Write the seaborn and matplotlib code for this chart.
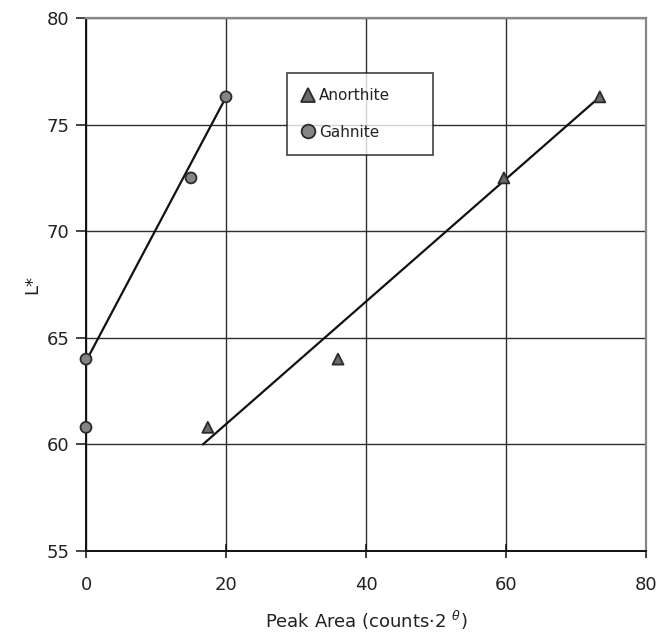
import pandas as pd
import numpy as np
import matplotlib
matplotlib.use("Agg")
import matplotlib.pyplot as plt
import seaborn as sns

# measured points
anorthite_x = [17.4, 36.0, 59.7, 73.4]
anorthite_y = [60.8, 64.0, 72.5, 76.3]
gahnite_x = [0.0, 0.0, 15.0, 20.0]
gahnite_y = [64.0, 60.8, 72.5, 76.3]

# trendline end points as drawn in the picture
anorthite_fit_x = [16.7, 72.7]
anorthite_fit_y = [60.0, 76.1]
gahnite_fit_x = [0.0, 19.7]
gahnite_fit_y = [63.9, 76.1]

x_ticks = [0, 20, 40, 60, 80]
y_ticks = [55, 60, 65, 70, 75, 80]

pts = pd.concat([
    pd.DataFrame({'x': anorthite_x, 'y': anorthite_y, 'mineral': 'Anorthite'}),
    pd.DataFrame({'x': gahnite_x, 'y': gahnite_y, 'mineral': 'Gahnite'}),
])
fits = pd.concat([
    pd.DataFrame({'x': anorthite_fit_x, 'y': anorthite_fit_y, 'mineral': 'Anorthite'}),
    pd.DataFrame({'x': gahnite_fit_x, 'y': gahnite_fit_y, 'mineral': 'Gahnite'}),
])

sns.set_theme(style="white")
plt.rcParams['font.family'] = ['DejaVu Sans']

fig = plt.figure(figsize=(6.67, 6.35), dpi=100)
ax = fig.add_axes([86 / 667, 1 - 551 / 635, 560 / 667, 533 / 635])

ax.grid(True, color='#2e2e2e', linewidth=1.0)
ax.set_axisbelow(True)

for name, d in fits.groupby('mineral'):
    sns.lineplot(data=d, x='x', y='y', ax=ax, color='#111111', linewidth=1.6,
                 legend=False, zorder=3)

sns.scatterplot(data=pts, x='x', y='y', hue='mineral', style='mineral',
                markers={'Anorthite': '^', 'Gahnite': 'o'},
                palette={'Anorthite': '#6b6b6b', 'Gahnite': '#858585'},
                s=62, edgecolor='#2a2a2a', linewidth=1.3, ax=ax, zorder=4,
                clip_on=False)

ax.set_xlim(0, 80)
ax.set_ylim(55, 80)
ax.set_xticks(x_ticks)
ax.set_yticks(y_ticks)
ax.tick_params(axis='both', labelsize=13, colors='#222222', bottom=True, left=True)
ax.tick_params(axis='x', direction='inout', length=10, width=1.1, pad=13, color='#111111')
ax.tick_params(axis='y', direction='out', length=7, width=1.1, pad=5, color='#111111')

for side in ['left', 'bottom']:
    ax.spines[side].set_color('#111111')
    ax.spines[side].set_linewidth(1.4)
for side in ['top', 'right']:
    ax.spines[side].set_color('#888888')
    ax.spines[side].set_linewidth(1.6)

ax.set_xlabel('Peak Area (counts·2 $^{\\theta}$)', fontsize=13, color='#222222', labelpad=11)
ax.set_ylabel('L*', fontsize=13, color='#222222', labelpad=4)

leg = ax.legend(loc='upper left', bbox_to_anchor=(0.359, 0.897, 0.261, 0.0),
                mode='expand', borderaxespad=0, markerscale=1.25,
                fontsize=11, frameon=True, fancybox=False, edgecolor='#111111',
                handlelength=0.8, handletextpad=0.3, labelspacing=1.4, borderpad=1.0)
leg.get_frame().set_linewidth(1.2)
for t in leg.get_texts():
    t.set_color('#222222')

fig.savefig('out.png', dpi=100)
